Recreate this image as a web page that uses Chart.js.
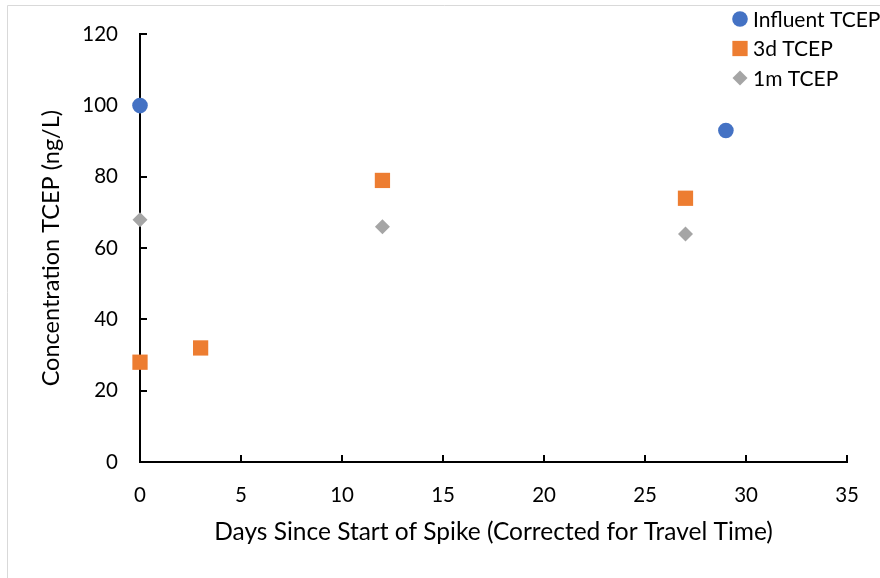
<!DOCTYPE html>
<html>
<head>
<meta charset="utf-8">
<script src="https://cdn.jsdelivr.net/npm/chart.js@4.4.1/dist/chart.umd.min.js"></script>
<style>
html, body { margin: 0; padding: 0; background: #ffffff; overflow: hidden; }
#wrap { width: 880px; height: 578px; position: relative; }
</style>
</head>
<body>
<div id="wrap"><canvas id="tcep_chart" width="880" height="578"></canvas></div>
<script>
// data
var influent_days = [0, 29];
var influent_conc = [100, 93];
var d3_days = [0, 3, 12, 27];
var d3_conc = [28, 32, 79, 74];
var m1_days = [0, 12, 27];
var m1_conc = [68, 66, 64];
var series_names = ['Influent TCEP', '3d TCEP', '1m TCEP'];
var x_title = 'Days Since Start of Spike (Corrected for Travel Time)';
var y_title = 'Concentration TCEP (ng/L)';

var font_family = "Lato, 'Open Sans', sans-serif";
var colors = ['#4472c4', '#ed7d31', '#a5a5a5'];
var styles = ['circle', 'rect', 'rectRot'];
var radii = [7.8, 10.8, 7.5];

function toPoints(xs, ys){
    var pts = [];
    for(var i=0; i<xs.length; i++){
        pts.push({x: xs[i], y: ys[i]});
    }
    return pts;
}

// light grey frame of the chart object
var framePlugin = {
    id: 'frame',
    beforeDraw: function(chart){
        var ctx = chart.ctx;
        ctx.save();
        ctx.strokeStyle = '#d9d9d9';
        ctx.lineWidth = 1;
        ctx.beginPath();
        ctx.moveTo(7.5, 600);
        ctx.lineTo(7.5, 5.5);
        ctx.lineTo(900, 5.5);
        ctx.stroke();
        ctx.restore();
    }
};

// tick marks pointing into the plot area (drawn under the markers)
var innerTicks = {
    id: 'innerTicks',
    beforeDatasetsDraw: function(chart){
        var ctx = chart.ctx;
        var xs = chart.scales.x, ys = chart.scales.y;
        var x0 = xs.getPixelForValue(0), y0 = ys.getPixelForValue(0);
        ctx.save();
        ctx.strokeStyle = '#000000';
        ctx.lineWidth = 2;
        ctx.beginPath();
        xs.ticks.forEach(function(t){
            if(t.value == 0) return;
            var px = Math.round(xs.getPixelForValue(t.value));
            ctx.moveTo(px, y0);
            ctx.lineTo(px, y0 - 7);
        });
        ys.ticks.forEach(function(t){
            if(t.value == 0) return;
            var py = Math.round(ys.getPixelForValue(t.value));
            ctx.moveTo(x0, py);
            ctx.lineTo(x0 + 7, py);
        });
        ctx.stroke();
        ctx.restore();
    }
};

// legend placed in the top right corner, overlapping the plot like the original
var cornerLegend = {
    id: 'cornerLegend',
    afterDraw: function(chart){
        var ctx = chart.ctx;
        ctx.save();
        ctx.font = '21px ' + font_family;
        ctx.textBaseline = 'middle';
        chart.data.datasets.forEach(function(ds, i){
            var cy = 19 + i * 29.5;
            ctx.fillStyle = colors[i];
            Chart.helpers.drawPoint(ctx, {pointStyle: styles[i], radius: radii[i], rotation: 0, borderWidth: 0}, 740, cy);
            ctx.fillStyle = '#000000';
            ctx.fillText(ds.label, 753, cy + 1);
        });
        ctx.restore();
    }
};

var chart = new Chart(document.getElementById('tcep_chart').getContext('2d'), {
    type: 'scatter',
    data: {
        datasets: [{
            label: series_names[0],
            data: toPoints(influent_days, influent_conc),
            backgroundColor: colors[0],
            borderWidth: 0,
            pointStyle: styles[0],
            pointRadius: radii[0],
            clip: false
        },{
            label: series_names[1],
            data: toPoints(d3_days, d3_conc),
            backgroundColor: colors[1],
            borderWidth: 0,
            pointStyle: styles[1],
            pointRadius: radii[1],
            clip: false
        },{
            label: series_names[2],
            data: toPoints(m1_days, m1_conc),
            backgroundColor: colors[2],
            borderWidth: 0,
            pointStyle: styles[2],
            pointRadius: radii[2],
            clip: false
        }]
    },
    options: {
        responsive: false,
        animation: false,
        layout: {
            padding: {left: 0, right: 31, top: 34, bottom: 0}
        },
        scales: {
            x: {
                type: 'linear',
                min: 0,
                max: 35,
                afterFit: function(scale){ scale.height = 116; },
                grid: { display: true, drawOnChartArea: false, drawTicks: false },
                border: { display: true, color: '#000000', width: 2 },
                ticks: {
                    stepSize: 5,
                    padding: 21,
                    color: '#000000',
                    font: { family: font_family, size: 20.5 }
                },
                title: {
                    display: true,
                    text: x_title,
                    color: '#000000',
                    padding: {top: 0, bottom: 31},
                    font: { family: font_family, size: 24.5 }
                }
            },
            y: {
                type: 'linear',
                min: 0,
                max: 120,
                afterFit: function(scale){ scale.width = 140; },
                grid: { display: true, drawOnChartArea: false, drawTicks: false },
                border: { display: true, color: '#000000', width: 2 },
                ticks: {
                    stepSize: 20,
                    padding: 22,
                    color: '#000000',
                    font: { family: font_family, size: 20.5 }
                },
                title: {
                    display: true,
                    text: y_title,
                    color: '#000000',
                    padding: {top: 37, bottom: 0},
                    font: { family: font_family, size: 23.5 }
                }
            }
        },
        plugins: {
            legend: { display: false },
            tooltip: { enabled: false }
        }
    },
    plugins: [framePlugin, innerTicks, cornerLegend]
});
</script>
</body>
</html>
